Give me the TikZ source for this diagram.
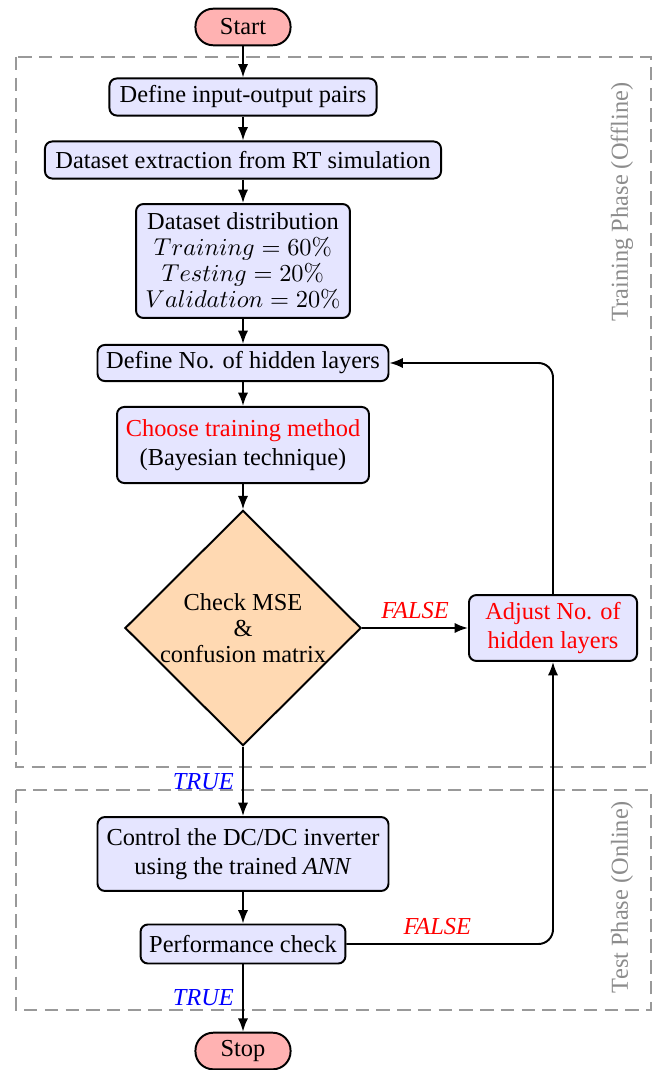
\documentclass[tikz,border=0pt]{standalone}
\usepackage[no-math]{fontspec}
\setmainfont{Liberation Serif}
\usetikzlibrary{shapes.geometric,arrows.meta}
\begin{document}
\begin{tikzpicture}[x=0.41pt,y=-0.41pt,
  box/.style={draw, thick, rounded corners=3pt, fill=blue!10, align=center, inner sep=2pt},
  term/.style={draw, thick, rounded corners=7.3pt, fill=red!30, minimum width=39pt, minimum height=15pt, inner sep=2pt},
  decision/.style={diamond, draw, thick, fill=orange!30, align=center, inner sep=0pt, minimum width=96.8pt, minimum height=96pt},
  arr/.style={thick, -{Latex[length=5.5pt,width=4.2pt]}},
  phase/.style={draw=black!40, line width=0.6pt, dash pattern=on 5.5pt off 3pt},
  phaselabel/.style={text=black!45, rotate=90},
  yes/.style={text=blue, font=\itshape},
  no/.style={text=red, font=\itshape}]
\useasboundingbox (0,0) rectangle (660,1070);

% phase frames
\draw[phase] (16,57) rectangle (651,767);
\draw[phase] (16,790) rectangle (651,1010);
\node[phaselabel] (trainlbl) at (622,202) {Training Phase (Offline)};
\node[phaselabel] (testlbl) at (622,897) {Test Phase (Online)};

% flow nodes
\node[term] (start) at (243,27) {Start};
\node[box, minimum width=109.5pt, minimum height=15.2pt] (io) at (243,97) {Define input-output pairs};
\node[box, minimum width=162.4pt, minimum height=15.2pt] (extract) at (243,160) {Dataset extraction from RT simulation};
\node[box, minimum width=87.7pt, minimum height=46.7pt] (dist) at (243,261)
  {Dataset distribution\\[-1.3pt] $Training=60\%$\\[-1.3pt] $Testing=20\%$\\[-1.3pt] $Validation=20\%$};
\node[box, minimum width=119.3pt, minimum height=14.8pt] (defno) at (243,363) {Define No. of hidden layers};
\node[box, minimum width=103.3pt, minimum height=31.2pt] (choose) at (243,445)
  {\textcolor{red}{Choose training method}\\ (Bayesian technique)};
\node[decision] (dec) at (243,628) {Check MSE\\[-1.3pt] \&\\[-1.3pt] confusion matrix};
\node[box, text=red, minimum width=68.9pt, minimum height=27pt] (adj) at (553,628) {Adjust No. of\\ hidden layers};
\node[box, minimum width=119.3pt, minimum height=30.3pt] (ctrl) at (243,854)
  {Control the DC/DC inverter\\ using the trained \textit{ANN}};
\node[box, minimum width=84pt, minimum height=16pt] (perf) at (243,944) {Performance check};
\node[term] (stop) at (243,1051) {Stop};

% connectors
\draw[arr] (start) -- (io);
\draw[arr] (io) -- (extract);
\draw[arr] (extract) -- (dist);
\draw[arr] (dist) -- (defno);
\draw[arr] (defno) -- (choose);
\draw[arr] (choose) -- (dec);
\draw[arr] (dec) -- node[no, above] {FALSE} (adj);
\draw[arr] (dec) -- node[yes, left] {TRUE} (ctrl);
\draw[arr, rounded corners=6pt] (adj.north) |- (defno.east);
\draw[arr] (ctrl) -- (perf);
\draw[arr] (perf) -- node[yes, left] {TRUE} (stop);
\draw[arr, rounded corners=6pt] (perf.east) -| node[no, above, pos=0.22] {FALSE} (adj.south);
\end{tikzpicture}
\end{document}
